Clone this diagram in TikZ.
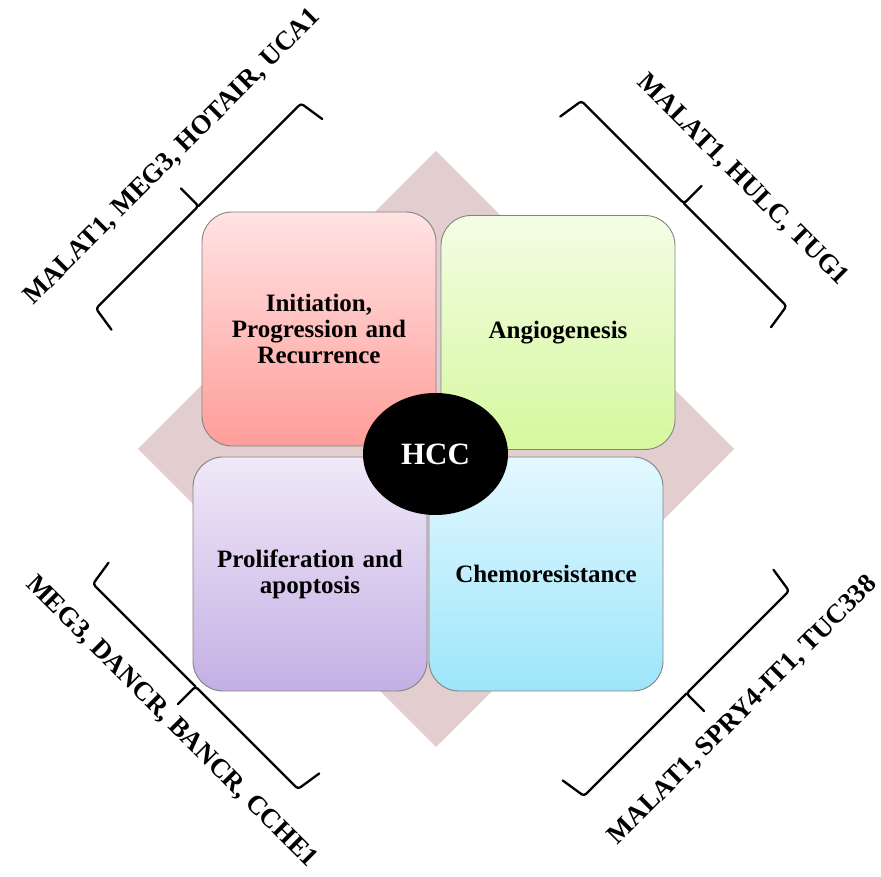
\documentclass[tikz,border=0pt]{standalone}
\usepackage{fontspec}
\setmainfont{Liberation Serif}
\usetikzlibrary{shapes.geometric}

\definecolor{diamondfill}{RGB}{227,206,207}
\definecolor{boxedge}{RGB}{130,130,130}
\definecolor{initTop}{RGB}{255,227,227}
\definecolor{initBot}{RGB}{255,157,153}
\definecolor{angioTop}{RGB}{243,253,229}
\definecolor{angioBot}{RGB}{214,248,158}
\definecolor{prolifTop}{RGB}{239,233,248}
\definecolor{prolifBot}{RGB}{196,175,228}
\definecolor{chemoTop}{RGB}{227,248,255}
\definecolor{chemoBot}{RGB}{157,229,250}

\begin{document}
\begin{tikzpicture}[x=1pt,y=1pt,
  quad/.style={draw=boxedge, line width=0.9pt, rounded corners=30pt,
    minimum width=234pt, minimum height=234pt, inner sep=0pt,
    align=center, text width=210pt,
    font=\bfseries\fontsize{25}{26}\selectfont},
  brk/.style={line width=2.3pt, rounded corners=3pt, line cap=round},
  gene/.style={font=\bfseries\fontsize{26.8}{27}\selectfont, inner sep=0pt}]

\useasboundingbox (0,0) rectangle (881,876);

% background diamond
\fill[diamondfill] (436,725) -- (734,427) -- (436,129) -- (138,427) -- cycle;

% the four quadrants
\node[quad, top color=initTop, bottom color=initBot] (init) at (319,547)
  {Initiation,\\Progression and\\Recurrence};
\node[quad, top color=angioTop, bottom color=angioBot] (angio) at (558,543.5)
  {Angiogenesis};
\node[quad, top color=prolifTop, bottom color=prolifBot] (prolif) at (310,302)
  {Proliferation and\\apoptosis};
\node[quad, top color=chemoTop, bottom color=chemoBot] (chemo) at (546,302)
  {Chemoresistance};

% centre
\node[ellipse, fill=black, minimum width=145pt, minimum height=122pt,
  text=white, font=\bfseries\fontsize{31}{31}\selectfont] (hcc) at (435.5,422) {HCC};

% brace drawn in a local frame: axis along x, tip towards +y,
% ends bent slightly outwards
\newcommand{\genebrace}{%
  \draw[brk] (-149,-26) -- (-145,0) -- (0,0) -- (0,25);
  \draw[brk] (0,0) -- (145,0) -- (149,-26);}

% upper left
\begin{scope}[shift={(198.5,670)}, rotate=45]
  \genebrace
  \node[gene, rotate=45] (tl) at (16,53) {MALAT1, MEG3, HOTAIR, UCA1};
\end{scope}
% upper right
\begin{scope}[shift={(684,672.5)}, rotate=-45]
  \genebrace
  \node[gene, rotate=-45] (tr) at (25,58) {MALAT1, HULC, TUG1};
\end{scope}
% lower left
\begin{scope}[shift={(195.5,189.5)}, rotate=135]
  \genebrace
  \node[gene, rotate=-45] (bl) at (-8,42) {MEG3, DANCR, BANCR, CCHE1};
\end{scope}
% lower right
\begin{scope}[shift={(686.5,182.5)}, rotate=-135]
  \genebrace
  \node[gene, rotate=45] (br) at (-28,52) {MALAT1, SPRY4-IT1, TUC338};
\end{scope}

\end{tikzpicture}
\end{document}
